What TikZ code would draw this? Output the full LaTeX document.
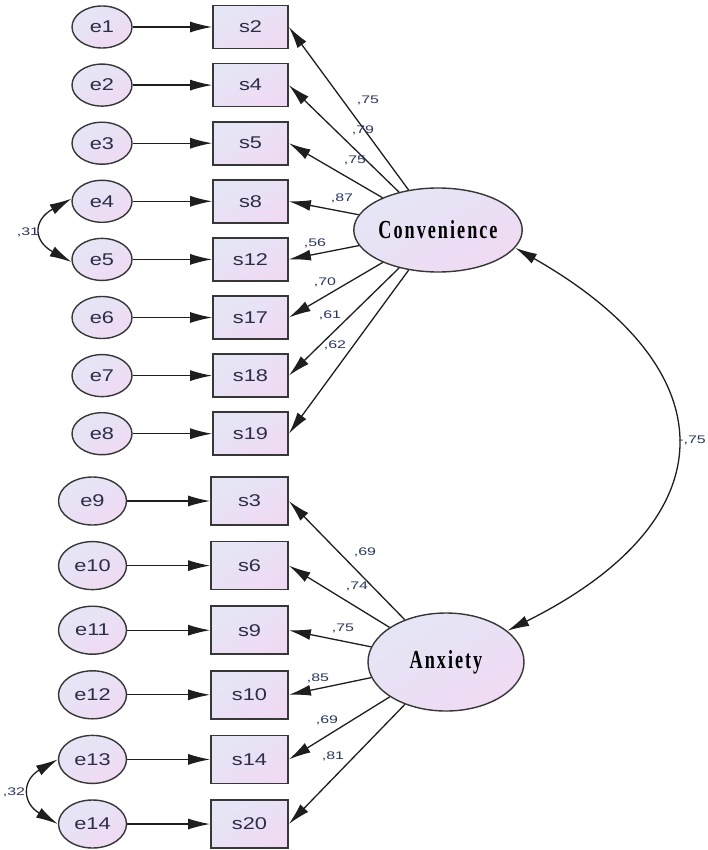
\documentclass[tikz,border=0pt]{standalone}
\usepackage{graphicx}
\usepackage{fontspec}
\setmainfont{Liberation Sans}
\newfontfamily\latfont[LetterSpace=11]{Liberation Serif}
\usetikzlibrary{shapes.geometric,arrows.meta}

\definecolor{lavtop}{RGB}{228,230,246}
\definecolor{lavbot}{RGB}{240,218,243}
\definecolor{edgegray}{RGB}{55,55,55}
\definecolor{inkline}{RGB}{30,30,30}
\definecolor{txtdark}{RGB}{45,45,70}
\definecolor{coefblue}{RGB}{40,55,95}

% widened sans text as printed by the modelling program
\newcommand\wtxt[1]{\scalebox{1.28}[1]{#1}}
\newcommand\ctxt[1]{\scalebox{1.45}[1]{#1}}
\newcommand\ltxt[1]{\scalebox{0.7}[1]{\latfont\bfseries #1}}

\begin{document}
\begin{tikzpicture}[x=1pt,y=-1pt,
  shade/.style={top color=lavtop,bottom color=lavbot,shading angle=30},
  errsmall/.style={ellipse,draw=edgegray,line width=1.4pt,shade,
    minimum width=60pt,minimum height=42pt,inner sep=0pt,
    font=\fontsize{17}{17}\selectfont,text=txtdark},
  errbig/.style={errsmall,minimum width=68pt,minimum height=48pt},
  obssmall/.style={rectangle,draw=edgegray,line width=1.7pt,shade,
    minimum width=75pt,minimum height=43pt,inner sep=0pt,
    font=\fontsize{17}{17}\selectfont,text=txtdark},
  obsbig/.style={obssmall,minimum width=77pt,minimum height=48pt},
  latent/.style={ellipse,draw=edgegray,line width=1.4pt,shade,
    inner sep=0pt,font=\fontsize{26}{26}\selectfont,text=black},
  link/.style={draw=inkline,line width=1.3pt,-{Latex[length=22pt,width=11pt]}},
  both/.style={draw=inkline,line width=1.3pt,{Latex[length=22pt,width=11pt]}-{Latex[length=22pt,width=11pt]}},
  coef/.style={font=\fontsize{11}{11}\selectfont,text=coefblue,inner sep=0pt}
]
\useasboundingbox (0,0) rectangle (708,850);

% latent factors
\node[latent,minimum width=146pt,minimum height=84pt] (conv) at (438,230) {\ltxt{Convenience}};
\node[latent,minimum width=156pt,minimum height=98pt] (anx) at (446,662) {\ltxt{Anxiety}};

% first block: errors and indicators
\foreach \i/\s [count=\k from 0] in {1/2,2/4,3/5,4/8,5/12,6/17,7/18,8/19}{
  \pgfmathsetmacro\yy{27+58.1*\k}
  \node[errsmall] (e\i) at (102,\yy) {\wtxt{e\i}};
  \node[obssmall] (s\s) at (250.5,\yy) {\wtxt{s\s}};
  \draw[link] (e\i) -- (s\s);
}

% second block: errors and indicators
\foreach \i/\s [count=\k from 0] in {9/3,10/6,11/9,12/10,13/14,14/20}{
  \pgfmathsetmacro\yy{501+64.6*\k}
  \node[errbig] (e\i) at (92.5,\yy) {\wtxt{e\i}};
  \node[obsbig] (s\s) at (249.5,\yy) {\wtxt{s\s}};
  \draw[link] (e\i) -- (s\s);
}

% loadings of Convenience
\foreach \s/\v/\lx/\ly in {2/75/368/100,4/79/363/130,5/75/355/160,8/87/342/198,
  12/56/315/243,17/70/325/282,18/61/330/315,19/62/335/345}{
  \draw[link] (conv) -- (s\s.east);
  \node[coef] (w\s) at (\lx,\ly) {\ctxt{,\v}};
}

% loadings of Anxiety
\foreach \s/\v/\lx/\ly in {3/69/365/552,6/74/357/586,9/75/343/628,10/85/318/678,
  14/69/327/720,20/81/333/756}{
  \draw[link] (anx) -- (s\s.east);
  \node[coef] (w\s) at (\lx,\ly) {\ctxt{,\v}};
}

% factor covariance
\draw[both] (conv.-13) .. controls (730,370) and (730,520) .. (anx.27);
\node[coef] (rfac) at (692,440) {\ctxt{-,75}};

% error covariances
\draw[both] (e4.175) .. controls (33,220) and (33,241) .. (e5.185);
\node[coef] (r45) at (28,232) {\ctxt{,31}};
\draw[both] (e13.west) .. controls (22,780) and (22,803) .. (e14.west);
\node[coef] (r1314) at (14,792) {\ctxt{,32}};
\end{tikzpicture}
\end{document}
